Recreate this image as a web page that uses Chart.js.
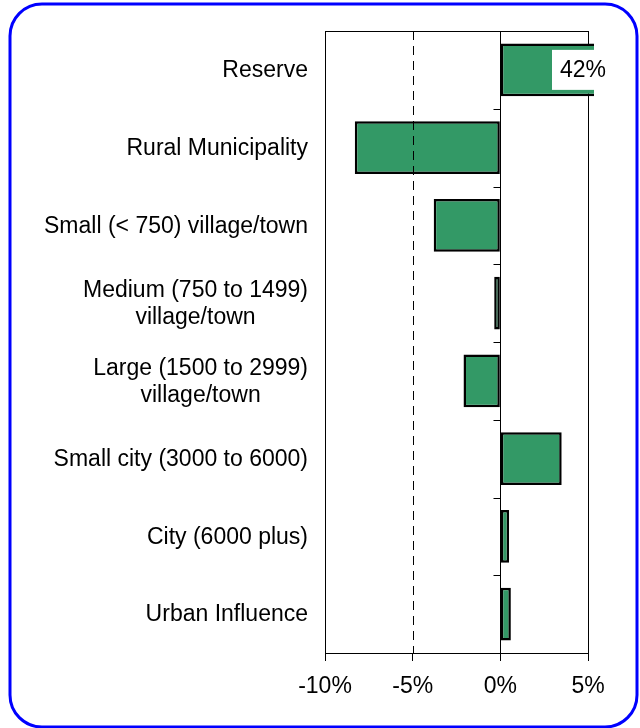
<!DOCTYPE html>
<html>
<head>
<meta charset="utf-8">
<script src="https://cdn.jsdelivr.net/npm/chart.js@4.4.0/dist/chart.umd.min.js"></script>
<style>
  body { margin: 0; background: #fff; }
  canvas { display: block; }
</style>
</head>
<body>
<canvas id="grafico" width="640" height="728"></canvas>
<script>
const categorias = [
    ['Reserve'],
    ['Rural Municipality'],
    ['Small (< 750) village/town'],
    ['Medium (750 to 1499)', 'village/town'],
    ['Large (1500 to 2999)', 'village/town'],
    ['Small city (3000 to 6000)'],
    ['City (6000 plus)'],
    ['Urban Influence']
]
const variacao = [42, -8.3, -3.8, -0.35, -2.1, 3.5, 0.5, 0.6]
const ticksX = [-10, -5, 0, 5]

const fonte = '"Liberation Sans", Arial, sans-serif'
const verde = '#339966'

// moldura azul arredondada + linha de cima da area do grafico
const moldura = {
    id: 'moldura',
    beforeDraw(chart) {
        const c = chart.ctx
        c.save()
        c.fillStyle = '#fff'
        c.fillRect(0, 0, chart.width, chart.height)
        c.restore()
    },
    afterDraw(chart) {
        const c = chart.ctx
        const area = chart.chartArea
        const x = chart.scales.x
        const y = chart.scales.y

        c.save()
        // linha tracejada em -5%
        c.strokeStyle = '#000'
        c.lineWidth = 1
        c.setLineDash([9, 6])
        const px = Math.round(x.getPixelForValue(-5)) + 0.5
        c.beginPath()
        c.moveTo(px, area.top)
        c.lineTo(px, area.bottom)
        c.stroke()
        c.setLineDash([])

        // borda de cima
        c.beginPath()
        c.moveTo(area.left, area.top + 0.5)
        c.lineTo(area.right, area.top + 0.5)
        c.stroke()

        // eixo do zero com as marcas entre categorias
        const zero = Math.round(x.getPixelForValue(0)) + 0.5
        c.beginPath()
        c.moveTo(zero, area.top)
        c.lineTo(zero, area.bottom)
        for (let i = 0; i <= categorias.length; i++) {
            const py = Math.round(y.getPixelForValue(i - 0.5)) + 0.5
            c.moveTo(zero - 7, py)
            c.lineTo(zero, py)
        }
        c.stroke()

        // rotulos das categorias (linhas centradas entre si)
        c.fillStyle = '#000'
        c.font = '23px ' + fonte
        c.textAlign = 'center'
        c.textBaseline = 'middle'
        const direita = area.left - 17
        categorias.forEach((linhas, i) => {
            const largura = Math.max(...linhas.map(l => c.measureText(l).width))
            const cx = direita - largura / 2
            const cy = y.getPixelForValue(i) + 1
            const alt = 27
            linhas.forEach((l, j) => {
                c.fillText(l, cx, cy + (j - (linhas.length - 1) / 2) * alt)
            })
        })

        // caixa com o valor da barra que passa do limite
        variacao.forEach((v, i) => {
            if (v > x.max) {
                const cy = y.getPixelForValue(i)
                const cx = area.right - 5
                c.fillStyle = '#fff'
                c.fillRect(cx - 31, cy - 20, 62, 40)
                c.fillStyle = '#000'
                c.fillText(v + '%', cx, cy + 1)
            }
        })

        // moldura
        c.strokeStyle = '#0000ff'
        c.lineWidth = 3
        c.beginPath()
        c.roundRect(10, 4, 627, 723, 32)
        c.stroke()
        c.restore()
    }
}

new Chart(document.getElementById('grafico'), {
    type: 'bar',
    data: {
        labels: categorias.map(l => l.join(' ')),
        datasets: [{
            data: variacao,
            backgroundColor: verde,
            borderColor: '#000',
            borderWidth: 2.5,
            borderSkipped: false,
            barPercentage: 0.68,
            categoryPercentage: 1,
            clip: { left: 0, top: 0, right: 6, bottom: 0 }
        }]
    },
    options: {
        indexAxis: 'y',
        responsive: false,
        animation: false,
        layout: { padding: { top: 31, right: 52, left: 0, bottom: 0 } },
        plugins: {
            legend: { display: false },
            tooltip: { enabled: false }
        },
        scales: {
            x: {
                min: -10,
                max: 5,
                afterBuildTicks: s => { s.ticks = ticksX.map(v => ({ value: v })) },
                afterFit: s => { s.height = 75 },
                grid: {
                    color: ctx => ctx.tick && ctx.tick.value === -5 ? 'rgba(0,0,0,0)' : '#000',
                    tickColor: '#000',
                    tickLength: 8,
                    lineWidth: 1
                },
                border: { display: true, color: '#000', width: 1 },
                ticks: {
                    color: '#000',
                    font: { family: fonte, size: 23 },
                    padding: 12,
                    maxRotation: 0,
                    callback: v => v + '%'
                }
            },
            y: {
                afterFit: s => { s.width = 325 },
                grid: { display: false },
                border: { display: false },
                ticks: { display: false }
            }
        }
    },
    plugins: [moldura]
})
</script>
</body>
</html>
